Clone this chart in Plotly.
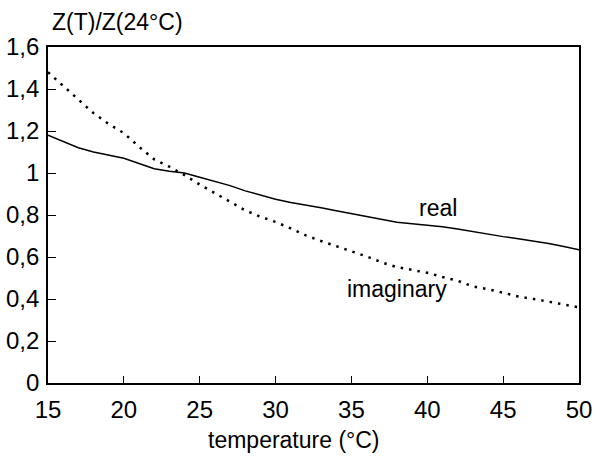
import plotly.graph_objects as go

# Temperature grid (°C)
temperature = [15, 16, 17, 18, 19, 20, 21, 22, 23, 24, 25, 26, 27, 28, 29, 30, 31, 32,
               33, 34, 35, 36, 37, 38, 39, 40, 41, 42, 43, 44, 45, 46, 47, 48, 49, 50]

# Normalised impedance Z(T)/Z(24°C), real part
real_part = [1.18, 1.15, 1.12, 1.10, 1.085, 1.07, 1.045, 1.02, 1.008, 1.0, 0.98, 0.96,
             0.94, 0.915, 0.895, 0.875, 0.86, 0.848, 0.835, 0.82, 0.806, 0.792, 0.778,
             0.765, 0.758, 0.752, 0.744, 0.733, 0.72, 0.708, 0.697, 0.687, 0.676, 0.664,
             0.65, 0.635]

# Normalised impedance Z(T)/Z(24°C), imaginary part
imag_part = [1.48, 1.415, 1.35, 1.285, 1.233, 1.19, 1.125, 1.065, 1.03, 0.99, 0.945, 0.905,
             0.862, 0.822, 0.792, 0.767, 0.736, 0.703, 0.676, 0.65, 0.627, 0.603, 0.574,
             0.552, 0.54, 0.525, 0.505, 0.487, 0.46, 0.447, 0.43, 0.412, 0.40, 0.388,
             0.374, 0.36]

x_ticks = [15, 20, 25, 30, 35, 40, 45, 50]
y_ticks = [0, 0.2, 0.4, 0.6, 0.8, 1.0, 1.2, 1.4, 1.6]
y_tick_text = ["0", "0,2", "0,4", "0,6", "0,8", "1", "1,2", "1,4", "1,6"]

FONT = "Liberation Sans, Arial, Helvetica, sans-serif"

fig = go.Figure()
fig.add_trace(go.Scatter(x=temperature, y=real_part, mode="lines",
                         line=dict(color="black", width=1.5), name="real"))
fig.add_trace(go.Scatter(x=temperature, y=imag_part, mode="lines",
                         line=dict(color="black", width=2.5, dash="2.5px,6px"),
                         name="imaginary"))

fig.add_annotation(x=40.7, y=0.835, text="real", showarrow=False,
                   font=dict(size=23, color="black", family=FONT))
fig.add_annotation(x=38.0, y=0.45, text="imaginary", showarrow=False,
                   font=dict(size=23, color="black", family=FONT))

# y-axis heading above the frame and x-axis title below
fig.add_annotation(xref="paper", yref="paper", x=0.003, y=1.0, yshift=25,
                   xanchor="left", yanchor="middle", showarrow=False,
                   text="Z(T)/Z(24°C)", font=dict(size=23, color="black", family=FONT))
fig.add_annotation(xref="paper", yref="paper", x=0.463, y=0, yshift=-57,
                   xanchor="center", yanchor="middle", showarrow=False,
                   text="temperature (°C)", font=dict(size=23, color="black", family=FONT))

fig.update_xaxes(range=[15, 50], tickvals=x_ticks, ticks="inside", ticklen=7,
                 tickcolor="black", tickwidth=1.2, showline=True, linecolor="black",
                 linewidth=1.6, mirror=True, showgrid=False, zeroline=False,
                 ticklabelstandoff=4, automargin=False,
                 tickfont=dict(size=24, color="black", family=FONT))
fig.update_yaxes(range=[0, 1.6], tickvals=y_ticks, ticktext=y_tick_text, ticks="inside",
                 ticklen=8, tickcolor="black", tickwidth=1.2, showline=True,
                 linecolor="black", linewidth=1.6, mirror=True, showgrid=False,
                 zeroline=False, ticklabelstandoff=2, automargin=False,
                 tickfont=dict(size=24, color="black", family=FONT))

fig.update_layout(width=594, height=460, showlegend=False,
                  margin=dict(l=48, r=15, t=47, b=77),
                  paper_bgcolor="white", plot_bgcolor="white")

fig.write_html("out.html")
